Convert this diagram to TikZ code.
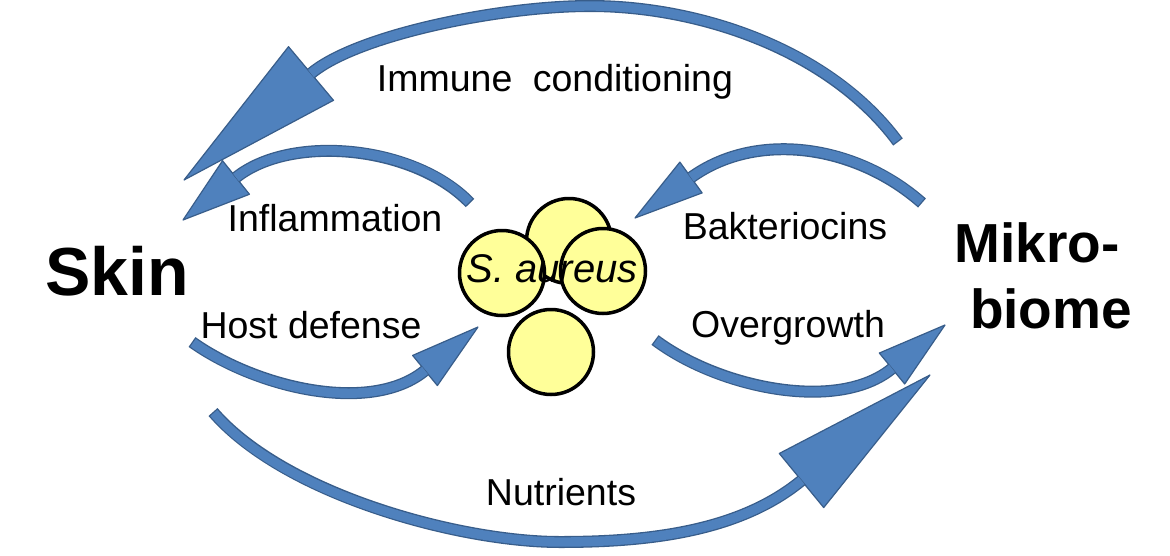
\documentclass[tikz,border=0pt]{standalone}
\usepackage{fontspec}
\setmainfont{Liberation Sans}
\usetikzlibrary{calc}
\definecolor{arrowfill}{RGB}{79,129,189}
\definecolor{arrowline}{RGB}{56,93,138}
\definecolor{cellfill}{RGB}{255,255,153}
\tikzset{
  bandout/.style={draw=arrowline, line width=12pt},
  bandin/.style={draw=arrowfill, line width=9.4pt, shorten <=1.3pt},
  headst/.style={fill=arrowfill, draw=arrowline, line width=1.2pt, line join=round},
  lbl/.style={font=\fontsize{37.5}{45}\selectfont, anchor=base, inner sep=0pt},
  bigA/.style={font=\fontsize{68}{80}\selectfont\bfseries, anchor=base, inner sep=0pt},
  bigB/.style={font=\fontsize{55}{66}\selectfont\bfseries, anchor=base, inner sep=0pt},
  cell/.style={circle, draw=black, line width=3.5pt, fill=cellfill, minimum size=85pt, inner sep=0pt},
}
\newcommand\bigarrow[4]{%
  \draw[bandout] #1;
  \draw[headst] ($(#2)!#4!90:(#3)$) -- (#3) -- ($(#2)!#4!-90:(#3)$) -- cycle;
  \draw[bandin] #1;
}
\begin{document}
\begin{tikzpicture}[x=1pt,y=-1pt]
\useasboundingbox[fill=white] (0,0) rectangle (1170,555);

% labels
\node[bigA] (skin) at (117,295) {Skin};
\node[bigB] (mikroA) at (1037,262) {Mikro-};
\node[bigB] (mikroB) at (1051,328) {biome};

% cells
\node[cell] (c1) at (569,241) {};
\node[cell] (c2) at (502,273) {};
\node[cell] (c3) at (603,271) {};
\node[cell] (c4) at (551,352) {};
\node[font=\fontsize{40}{48}\selectfont\itshape, anchor=base, inner sep=0pt] (saureus) at (552,282) {S. aureus};

% arrow coordinates
\coordinate (imT) at (898,142);
\coordinate (imM) at (590,6);
\coordinate (imB) at (311,73.5);
\coordinate (imP) at (184,180);

\coordinate (inT) at (470,203);
\coordinate (inB) at (236,177.5);
\coordinate (inP) at (183,220);

\coordinate (baT) at (922,203);
\coordinate (baB) at (691,177.5);
\coordinate (baP) at (635,218);

\coordinate (hoT) at (192,342);
\coordinate (hoB) at (425,370.5);
\coordinate (hoP) at (478,327);

\coordinate (ovT) at (655,340);
\coordinate (ovB) at (892,368.5);
\coordinate (ovP) at (945,325);

\coordinate (nuT) at (213,412);
\coordinate (nuM) at (560,542);
\coordinate (nuB) at (801.5,480.5);
\coordinate (nuP) at (930,375);

% arrows
\bigarrow{(imT) .. controls (830,50) and (700,6) .. (imM) .. controls (500,6) and ($(imB)!-60pt!(imP)$) .. (imB)}{imB}{imP}{35pt}
\bigarrow{(inT) .. controls (414,145) and ($(inB)!-70pt!(inP)$) .. (inB)}{inB}{inP}{21.5pt}
\bigarrow{(baT) .. controls (855,144) and ($(baB)!-80pt!(baP)$) .. (baB)}{baB}{baP}{19pt}
\bigarrow{(hoT) .. controls (257,388) and ($(hoB)!-70pt!(hoP)$) .. (hoB)}{hoB}{hoP}{19.5pt}
\bigarrow{(nuT) .. controls (285,495) and (460,542) .. (nuM) .. controls (650,542) and ($(nuB)!-80pt!(nuP)$) .. (nuB)}{nuB}{nuP}{35pt}
\bigarrow{(ovT) .. controls (719,388) and ($(ovB)!-70pt!(ovP)$) .. (ovB)}{ovB}{ovP}{20pt}

% arrow labels
\node[lbl] (immune) at (555,91) {Immune\hspace{10pt} conditioning};
\node[lbl] (inflam) at (335,231) {Inflammation};
\node[lbl] (host) at (311,338) {Host defense};
\node[lbl] (bakt) at (785,239) {Bakteriocins};
\node[lbl] (over) at (788,337) {Overgrowth};
\node[lbl] (nutr) at (561,505) {Nutrients};
\end{tikzpicture}
\end{document}
